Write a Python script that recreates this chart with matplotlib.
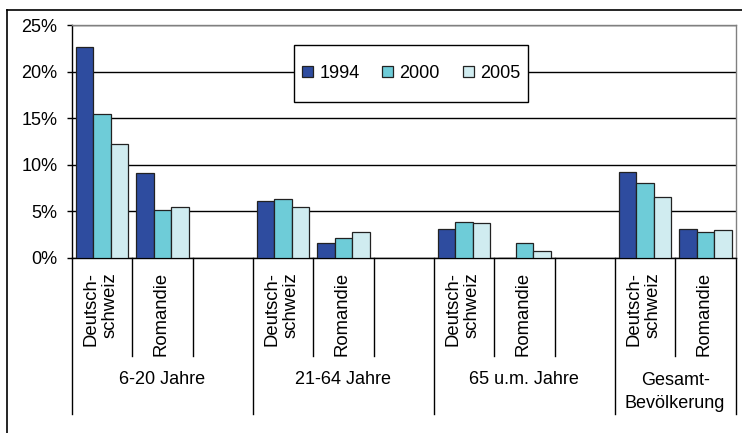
import matplotlib
matplotlib.use("Agg")
import matplotlib.pyplot as plt
from matplotlib.lines import Line2D
from matplotlib.patches import Patch, Rectangle
from matplotlib.transforms import blended_transform_factory
import numpy as np

# Data: share (%) per region and age group
years = ["1994", "2000", "2005"]
groups = ["6-20 Jahre", "21-64 Jahre", "65 u.m. Jahre", "Gesamt-\nBevölkerung"]
regions = ["Deutsch-\nschweiz", "Romandie"]

# values per group: [Deutschschweiz, Romandie]
v1994 = [[22.6, 9.1], [6.1, 1.65], [3.15, 0.0], [9.2, 3.15]]
v2000 = [[15.5, 5.2], [6.35, 2.15], [3.9, 1.65], [8.0, 2.75]]
v2005 = [[12.2, 5.45], [5.45, 2.75], [3.8, 0.7], [6.5, 3.05]]

yticks = [0, 5, 10, 15, 20, 25]
colors = ["#2E4C9F", "#6ECCD8", "#D0ECF0"]

plt.rcParams["font.family"] = ["Liberation Sans", "DejaVu Sans"]

W, H = 742, 433
fig = plt.figure(figsize=(W / 100, H / 100), dpi=100)
left, right, top, bottom = 72, 735.5, 25, 258
ax = fig.add_axes([left / W, (H - bottom) / H, (right - left) / W, (bottom - top) / H])

# slot layout: each group has its regions followed by an empty slot (except the last)
slot_x = []
pos = 0
group_bounds = []
for gi in range(len(groups)):
    start = pos
    for ri in range(len(regions)):
        slot_x.append((gi, ri, pos))
        pos += 1
    if gi < len(groups) - 1:
        pos += 1
    group_bounds.append((start - 0.5, pos - 0.5))
nslots = pos

bw = 0.29
series = [v1994, v2000, v2005]
for si, vals in enumerate(series):
    xs, hs = [], []
    for gi, ri, x in slot_x:
        xs.append(x + (si - 1) * bw)
        hs.append(vals[gi][ri])
    ax.bar(xs, hs, width=bw, color=colors[si], edgecolor="#222222",
           linewidth=0.9, zorder=3)

ax.set_xlim(-0.5, nslots - 0.5)
ax.set_ylim(0, 25)
ax.set_yticks(yticks)
ax.set_yticklabels([f"{t}%" for t in yticks], fontsize=13)
ax.tick_params(axis="y", length=3.6, width=1, pad=7, color="black")
ax.set_xticks([])
ax.grid(axis="y", color="black", linewidth=1, zorder=0)
ax.set_axisbelow(True)
for s in ["top", "right"]:
    ax.spines[s].set_color("#808080")
    ax.spines[s].set_linewidth(1)
for s in ["left", "bottom"]:
    ax.spines[s].set_color("black")
    ax.spines[s].set_linewidth(1)

# category axis: separators and labels below the plot
trans = blended_transform_factory(ax.transData, ax.transAxes)
ph = bottom - top
short_y = -(356 - bottom) / ph
long_y = -(414 - bottom) / ph
label_y = -(272 - bottom) / ph

for k in range(nslots + 1):
    xb = k - 0.5
    is_group = any(abs(xb - a) < 1e-9 or abs(xb - b) < 1e-9 for a, b in group_bounds)
    ax.add_line(Line2D([xb, xb], [0, long_y if is_group else short_y],
                       transform=trans, color="black", linewidth=1, clip_on=False))

for gi, ri, x in slot_x:
    ax.text(x - 0.02, label_y, regions[ri], transform=trans, rotation=90,
            ha="center", va="top", multialignment="right", fontsize=13.3,
            linespacing=1.15)

for gi, (a, b) in enumerate(group_bounds):
    if "\n" in groups[gi]:
        ax.text((a + b) / 2, -(372 - bottom) / ph, groups[gi], transform=trans,
                ha="center", va="top", fontsize=13, linespacing=1.5)
    else:
        ax.text((a + b) / 2, -(380 - bottom) / ph, groups[gi], transform=trans,
                ha="center", va="center", fontsize=13)

# legend box and entries
lx0, lx1, ly0, ly1 = 294, 528, 45, 102
fig.add_artist(Rectangle((lx0 / W, 1 - ly1 / H), (lx1 - lx0) / W, (ly1 - ly0) / H,
                         transform=fig.transFigure, facecolor="white",
                         edgecolor="black", linewidth=1, zorder=4))
handles = [Patch(facecolor=c, edgecolor="#222222", linewidth=0.9) for c in colors]
leg = fig.legend(handles, years, loc="center", ncol=3, fontsize=13,
                 bbox_to_anchor=((lx0 + lx1) / 2 / W, 1 - (ly0 + ly1) / 2 / H),
                 frameon=False, handlelength=0.62, handleheight=0.62,
                 handletextpad=0.35, columnspacing=1.25, borderpad=0)
leg.set_zorder(5)

# outer frame
fig.add_artist(Line2D([7 / W, 7 / W], [0, 1 - 10 / H], transform=fig.transFigure,
                      color="black", linewidth=1.2))
fig.add_artist(Line2D([7 / W, 1], [1 - 10 / H, 1 - 10 / H], transform=fig.transFigure,
                      color="black", linewidth=1.2))

fig.savefig("out.png", dpi=100)
